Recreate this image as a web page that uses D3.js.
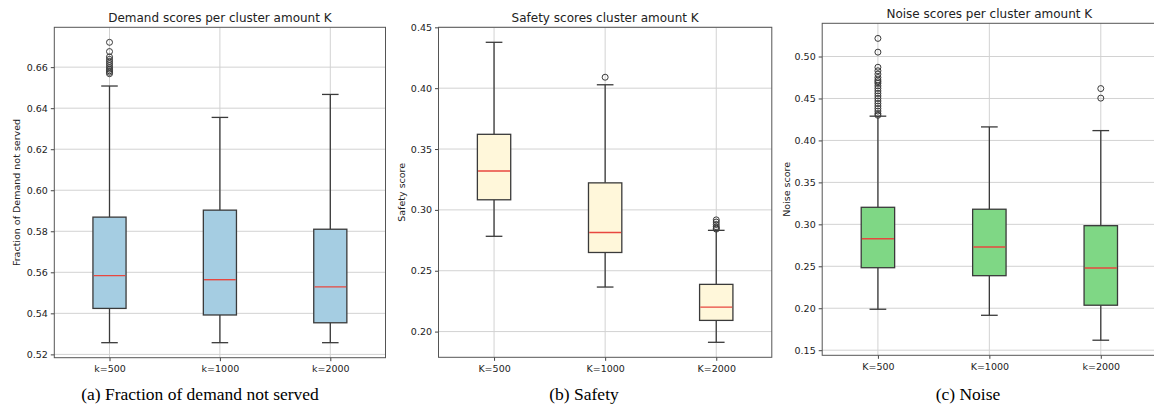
<!DOCTYPE html>
<html>
<head>
<meta charset="utf-8">
<script src="https://cdn.jsdelivr.net/npm/d3@7"></script>
<style>
  html, body { margin: 0; padding: 0; background: #fff; }
  svg { display: block; }
</style>
</head>
<body>
<svg id="chart" width="1154" height="410"></svg>
<script>
// ---- data ----
const demandCategories = ["k=500", "k=1000", "k=2000"];
const demandWhiskerLow = [0.5257, 0.5257, 0.5257];
const demandQ1         = [0.5424, 0.5392, 0.5354];
const demandMedian     = [0.5584, 0.5564, 0.5529];
const demandQ3         = [0.5869, 0.5903, 0.5810];
const demandWhiskerHigh= [0.6508, 0.6355, 0.6467];
const demandOutliers   = [
  [0.6721, 0.6676, 0.6650, 0.6638, 0.6628, 0.6618, 0.6608, 0.6598, 0.6590, 0.6582, 0.6575, 0.6568],
  [],
  []
];
const demandTicks = [0.52, 0.54, 0.56, 0.58, 0.60, 0.62, 0.64, 0.66];

const safetyCategories = ["K=500", "K=1000", "K=2000"];
const safetyWhiskerLow = [0.2783, 0.2366, 0.1912];
const safetyQ1         = [0.3083, 0.2650, 0.2092];
const safetyMedian     = [0.3320, 0.2814, 0.2201];
const safetyQ3         = [0.3621, 0.3222, 0.2388];
const safetyWhiskerHigh= [0.4377, 0.4028, 0.2832];
const safetyOutliers   = [
  [],
  [0.4090],
  [0.2918, 0.2900, 0.2880, 0.2862, 0.2850, 0.2842]
];
const safetyTicks = [0.20, 0.25, 0.30, 0.35, 0.40, 0.45];

const noiseCategories = ["K=500", "K=1000", "k=2000"];
const noiseWhiskerLow = [0.1988, 0.1916, 0.1619];
const noiseQ1         = [0.2483, 0.2388, 0.2036];
const noiseMedian     = [0.2829, 0.2729, 0.2480];
const noiseQ3         = [0.3203, 0.3180, 0.2984];
const noiseWhiskerHigh= [0.4289, 0.4161, 0.4117];
const noiseOutliers   = [
  [0.5216, 0.5052, 0.4872, 0.4830, 0.4790, 0.4750, 0.4720, 0.4700, 0.4680, 0.4650,
   0.4620, 0.4590, 0.4560, 0.4530, 0.4500, 0.4470, 0.4440, 0.4410, 0.4380, 0.4350,
   0.4320, 0.4300],
  [],
  [0.4618, 0.4504]
];
const noiseTicks = [0.15, 0.20, 0.25, 0.30, 0.35, 0.40, 0.45, 0.50];

const titles   = ["Demand scores per cluster amount K", "Safety scores cluster amount K", "Noise scores per cluster amount K"];
const yLabels  = ["Fraction of Demand not served", "Safety score", "Noise score"];
const captions = ["(a) Fraction of demand not served", "(b) Safety", "(c) Noise"];

// ---- layout (styling only) ----
const panels = [
  { cats: demandCategories, lo: demandWhiskerLow, q1: demandQ1, med: demandMedian, q3: demandQ3, hi: demandWhiskerHigh,
    out: demandOutliers, ticks: demandTicks, fmt: ".2f", fill: "#a5cde2",
    left: 54.3, right: 385.5, top: 27.3, bottom: 357.7, titleY: 22, xLabY: 372.5, yLabX: 17, captionX: 200, captionY: 400 },
  { cats: safetyCategories, lo: safetyWhiskerLow, q1: safetyQ1, med: safetyMedian, q3: safetyQ3, hi: safetyWhiskerHigh,
    out: safetyOutliers, ticks: safetyTicks, fmt: ".2f", fill: "#fff7da",
    left: 438.5, right: 771.8, top: 27.3, bottom: 357.3, titleY: 21.5, xLabY: 372.5, yLabX: 402, captionX: 584, captionY: 400 },
  { cats: noiseCategories, lo: noiseWhiskerLow, q1: noiseQ1, med: noiseMedian, q3: noiseQ3, hi: noiseWhiskerHigh,
    out: noiseOutliers, ticks: noiseTicks, fmt: ".2f", fill: "#7fd785",
    left: 822.2, right: 1156.5, top: 23.3, bottom: 355.3, titleY: 18, xLabY: 370.5, yLabX: 787, captionX: 968, captionY: 400 }
];

const svg = d3.select("#chart");
const tickFont = "'DejaVu Sans', sans-serif";
const edge = "#3a3a3a";

panels.forEach((p, i) => {
  const allVals = p.lo.concat(p.hi, p.out.flat());
  const dmin = d3.min(allVals), dmax = d3.max(allVals);
  const pad = (dmax - dmin) * 0.05;
  const y = d3.scaleLinear().domain([dmin - pad, dmax + pad]).range([p.bottom, p.top]);
  const x = d3.scalePoint().domain(p.cats).range([p.left, p.right]).padding(0.5);
  const step = x.step();
  const boxW = step * 0.3;
  const capW = boxW * 0.5;

  const g = svg.append("g");

  // grid
  g.append("g").selectAll("line.hg").data(p.ticks).join("line")
    .attr("x1", p.left).attr("x2", p.right)
    .attr("y1", d => y(d)).attr("y2", d => y(d))
    .attr("stroke", "#d2d2d2").attr("stroke-width", 1);
  g.append("g").selectAll("line.vg").data(p.cats).join("line")
    .attr("x1", d => x(d)).attr("x2", d => x(d))
    .attr("y1", p.top).attr("y2", p.bottom)
    .attr("stroke", "#d2d2d2").attr("stroke-width", 1);

  // axes via d3
  const yAxis = d3.axisLeft(y).tickValues(p.ticks).tickFormat(d3.format(p.fmt)).tickSize(3.5).tickPadding(3);
  const ya = g.append("g").attr("transform", `translate(${p.left},0)`).call(yAxis);
  ya.select(".domain").remove();
  ya.selectAll(".tick line").attr("stroke", "#444");
  ya.selectAll(".tick text").attr("font-family", tickFont).attr("font-size", 9.5).attr("fill", "#222");

  const xAxis = d3.axisBottom(x).tickSize(3.5).tickPadding(4);
  const xa = g.append("g").attr("transform", `translate(0,${p.bottom})`).call(xAxis);
  xa.select(".domain").remove();
  xa.selectAll(".tick line").attr("stroke", "#444");
  xa.selectAll(".tick text").attr("font-family", tickFont).attr("font-size", 9.5).attr("fill", "#222");

  // boxes
  const idx = d3.range(p.cats.length);
  const bx = g.append("g");
  // whiskers
  bx.selectAll("line.wl").data(idx).join("line")
    .attr("x1", d => x(p.cats[d])).attr("x2", d => x(p.cats[d]))
    .attr("y1", d => y(p.lo[d])).attr("y2", d => y(p.q1[d]))
    .attr("stroke", edge).attr("stroke-width", 1.3);
  bx.selectAll("line.wh").data(idx).join("line")
    .attr("x1", d => x(p.cats[d])).attr("x2", d => x(p.cats[d]))
    .attr("y1", d => y(p.q3[d])).attr("y2", d => y(p.hi[d]))
    .attr("stroke", edge).attr("stroke-width", 1.3);
  // caps
  bx.selectAll("line.cl").data(idx).join("line")
    .attr("x1", d => x(p.cats[d]) - capW / 2).attr("x2", d => x(p.cats[d]) + capW / 2)
    .attr("y1", d => y(p.lo[d])).attr("y2", d => y(p.lo[d]))
    .attr("stroke", edge).attr("stroke-width", 1.3);
  bx.selectAll("line.ch").data(idx).join("line")
    .attr("x1", d => x(p.cats[d]) - capW / 2).attr("x2", d => x(p.cats[d]) + capW / 2)
    .attr("y1", d => y(p.hi[d])).attr("y2", d => y(p.hi[d]))
    .attr("stroke", edge).attr("stroke-width", 1.3);
  // box
  bx.selectAll("rect").data(idx).join("rect")
    .attr("x", d => x(p.cats[d]) - boxW / 2).attr("width", boxW)
    .attr("y", d => y(p.q3[d])).attr("height", d => y(p.q1[d]) - y(p.q3[d]))
    .attr("fill", p.fill).attr("stroke", edge).attr("stroke-width", 1.3);
  // median
  bx.selectAll("line.md").data(idx).join("line")
    .attr("x1", d => x(p.cats[d]) - boxW / 2 + 0.7).attr("x2", d => x(p.cats[d]) + boxW / 2 - 0.7)
    .attr("y1", d => y(p.med[d])).attr("y2", d => y(p.med[d]))
    .attr("stroke", "#e8473f").attr("stroke-width", 1.4);
  // outliers
  const outPts = [];
  p.out.forEach((arr, k) => arr.forEach(v => outPts.push({ c: p.cats[k], v })));
  bx.selectAll("circle").data(outPts).join("circle")
    .attr("cx", d => x(d.c)).attr("cy", d => y(d.v)).attr("r", 3)
    .attr("fill", "none").attr("stroke", edge).attr("stroke-width", 1);

  // frame
  g.append("rect").attr("x", p.left).attr("y", p.top)
    .attr("width", p.right - p.left).attr("height", p.bottom - p.top)
    .attr("fill", "none").attr("stroke", "#555").attr("stroke-width", 1);

  // title
  g.append("text").attr("x", (p.left + p.right) / 2).attr("y", p.titleY)
    .attr("text-anchor", "middle").attr("font-family", tickFont).attr("font-size", 12).attr("fill", "#222")
    .text(titles[i]);
  // y label
  g.append("text").attr("transform", `translate(${p.yLabX},${(p.top + p.bottom) / 2}) rotate(-90)`)
    .attr("text-anchor", "middle").attr("dominant-baseline", "middle")
    .attr("font-family", tickFont).attr("font-size", 9.5).attr("fill", "#222")
    .text(yLabels[i]);
  // caption
  g.append("text").attr("x", p.captionX).attr("y", p.captionY)
    .attr("text-anchor", "middle").attr("font-family", "'Liberation Serif', 'Times New Roman', serif")
    .attr("font-size", 17.5).attr("fill", "#000")
    .text(captions[i]);
});
</script>
</body>
</html>
